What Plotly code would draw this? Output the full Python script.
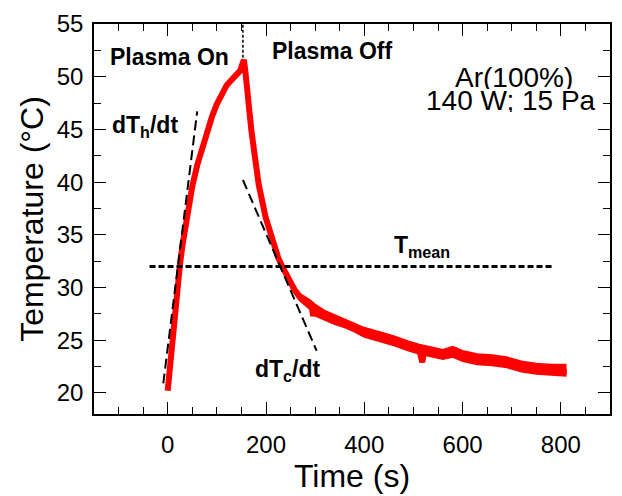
import plotly.graph_objects as go

# ---- data ----
time_s = [0, 3, 6, 10, 15, 20, 25, 30, 35, 40, 50, 60, 70, 80, 90, 100, 110, 120, 130, 140, 148, 152, 155,
          158, 163, 170, 176, 185, 199, 210, 217, 225, 234, 245, 258, 270, 285, 293, 296, 300, 320, 340,
          363, 380, 400, 430, 460, 490, 512, 518, 522, 540, 560, 575, 586, 595, 610, 627, 650, 674, 700,
          720, 742, 760, 780, 800, 812]
temp_c = [20.2, 21.8, 23.4, 25.5, 28.0, 30.2, 32.2, 34.0, 35.6, 37.0, 39.6, 41.6, 43.3, 44.8, 46.2, 47.4,
          48.4, 49.2, 49.7, 50.2, 50.6, 51.2, 51.6,
          50.5, 47.7, 45.0, 42.9, 39.8, 36.7, 35.0, 33.8, 32.8, 31.9, 30.9, 29.8, 29.0, 28.4, 28.2, 27.3,
          27.9, 27.3, 26.9, 26.6, 26.1, 25.6, 25.3, 24.9, 24.4, 24.1, 22.9, 24.0, 23.8, 23.6, 23.7, 24.0,
          23.6, 23.3, 23.2, 23.1, 23.0, 22.8, 22.6, 22.3, 22.2, 22.1, 22.1, 22.0]

# noisy band (upper / lower envelope) of the slow cooling tail
band_t = [250, 270, 290, 300, 320, 340, 360, 380, 400, 430, 460, 490, 512, 540, 560, 580, 600, 630,
          660, 690, 720, 750, 780, 810]
band_hi = [30.6, 29.4, 28.8, 28.4, 27.8, 27.4, 27.0, 26.6, 26.2, 25.8, 25.4, 24.9, 24.6, 24.3, 24.1,
           24.4, 24.0, 23.7, 23.6, 23.4, 23.0, 22.8, 22.7, 22.7]
band_lo = [30.0, 28.7, 27.9, 27.3, 26.9, 26.5, 26.2, 25.8, 25.3, 24.9, 24.5, 24.0, 23.7, 23.4, 23.2,
           23.4, 23.0, 22.7, 22.6, 22.4, 22.0, 21.8, 21.7, 21.6]

heat_tangent_t = [-9, 60]
heat_tangent_T = [20.9, 46.7]
cool_tangent_t = [153, 303]
cool_tangent_T = [40.2, 24.0]
tmean_t = [-37, 782]
tmean_T = [32.0, 32.0]
switch_t = [153, 153]
switch_T = [51.8, 55.0]

x_range = [-150, 900]
y_range = [18, 55]

FONT = "Liberation Sans, Arial, sans-serif"
RED = "#ff0000"

fig = go.Figure()
fig.add_trace(go.Scatter(x=band_t + band_t[::-1], y=band_hi + band_lo[::-1], mode="lines",
                         fill="toself", fillcolor=RED, line=dict(color=RED, width=1.5),
                         hoverinfo="skip", showlegend=False))
fig.add_trace(go.Scatter(x=time_s, y=temp_c, mode="lines",
                         line=dict(color=RED, width=6), showlegend=False))
fig.add_trace(go.Scatter(x=heat_tangent_t, y=heat_tangent_T, mode="lines",
                         line=dict(color="black", width=2, dash="10px,5px"), showlegend=False))
fig.add_trace(go.Scatter(x=cool_tangent_t, y=cool_tangent_T, mode="lines",
                         line=dict(color="black", width=2, dash="10px,5px"), showlegend=False))
fig.add_trace(go.Scatter(x=tmean_t, y=tmean_T, mode="lines",
                         line=dict(color="black", width=3, dash="6px,3px"), showlegend=False))
fig.add_trace(go.Scatter(x=switch_t, y=switch_T, mode="lines",
                         line=dict(color="black", width=1.5, dash="3px,2px"), showlegend=False))

axis_common = dict(showgrid=False, zeroline=False, showline=True, linecolor="black", linewidth=1.5,
                   mirror="ticks", ticks="inside", ticklen=12, tickwidth=1.2, tickcolor="black",
                   tickfont=dict(family=FONT, size=24, color="black"))

fig.update_xaxes(range=x_range, tick0=0, dtick=200,
                 minor=dict(dtick=50, tick0=0, ticks="inside", ticklen=7, tickcolor="black", tickwidth=1.2),
                 title=dict(text="Time (s)", font=dict(family=FONT, size=32, color="black"), standoff=6),
                 ticklabelstandoff=8, **axis_common)
fig.update_yaxes(range=y_range, tick0=20, dtick=5,
                 minor=dict(dtick=2.5, tick0=20, ticks="inside", ticklen=7, tickcolor="black", tickwidth=1.2),
                 title=dict(text="Temperature (°C)", font=dict(family=FONT, size=32, color="black"), standoff=4),
                 ticklabelstandoff=4, **axis_common)

def ann(text, x, y, size, xanchor="center", height=None):
    fig.add_annotation(x=x, y=y, xref="x", yref="y", text=text, showarrow=False,
                       xanchor=xanchor, yanchor="middle", height=height,
                       font=dict(family=FONT, size=size, color="black"))

ann("<b>Plasma On</b>", 4, 51.9, 23)
ann("<b>Plasma Off</b>", 334, 52.45, 23)
ann("Ar(100%)", 705, 50.0, 28, height=24)
ann("140 W; 15 Pa", 698, 47.8, 28, height=24)
ann("<b>dT<sub>h</sub>/dt</b>", -118, 45.3, 23, xanchor="left")
ann("<b>T<sub>mean</sub></b>", 457, 33.9, 23, xanchor="left")
ann("<b>dT<sub>c</sub>/dt</b>", 173, 22.1, 23, xanchor="left")

fig.update_layout(width=622, height=496, margin=dict(l=94, r=10, t=16, b=74),
                  paper_bgcolor="white", plot_bgcolor="white",
                  font=dict(family=FONT, color="black"))

fig.write_html("out.html")
